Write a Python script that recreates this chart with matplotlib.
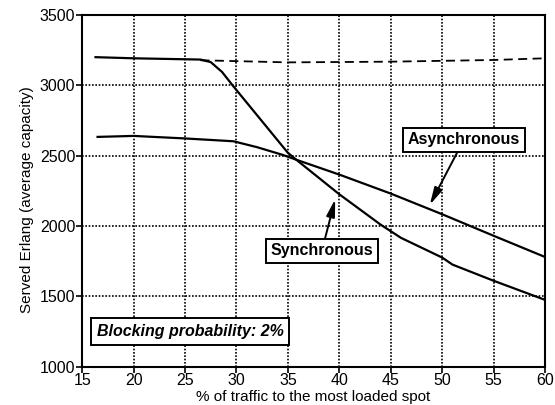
import numpy as np
import matplotlib
matplotlib.use("Agg")
import matplotlib.pyplot as plt

plt.rcParams['font.family'] = ['Liberation Sans', 'DejaVu Sans']

# Courbes
sync_x = [16.3, 20, 25, 26.5, 27.5, 28.6, 29.6, 35, 36, 40, 44, 46, 50, 51, 55, 60]
sync_y = [3200, 3192, 3185, 3183, 3165, 3095, 3002, 2520, 2460, 2225, 2010, 1915, 1775, 1725, 1610, 1474]

async_x = [16.5, 20, 25, 29.7, 32, 34.5, 36, 40, 45, 50, 55, 60]
async_y = [2633, 2640, 2622, 2602, 2560, 2505, 2466, 2365, 2230, 2083, 1930, 1779]

# limite en tirets
dash_x = [26.5, 35, 45, 55, 60]
dash_y = [3178, 3163, 3168, 3180, 3192]

x_ticks = [15, 20, 25, 30, 35, 40, 45, 50, 55, 60]
y_ticks = [1000, 1500, 2000, 2500, 3000, 3500]

fig = plt.figure(figsize=(5.55, 4.05), dpi=100)
ax = fig.add_axes([0.148, 0.095, 0.834, 0.868])

ax.plot(sync_x, sync_y, color='black', lw=1.6)
ax.plot(async_x, async_y, color='black', lw=1.6)
ax.plot(dash_x, dash_y, color='black', lw=1.3, linestyle=(0, (5, 3)))

ax.set_xlim(15, 60)
ax.set_ylim(1000, 3500)
ax.set_xticks(x_ticks)
ax.set_yticks(y_ticks)
ax.grid(True, color='black', linestyle=(0, (1, 1)), lw=1.2)
ax.tick_params(direction='out', length=4, width=1.2, labelsize=11.5, pad=1)
for s in ax.spines.values():
    s.set_linewidth(1.5)

ax.set_xlabel("% of traffic to the most loaded spot", fontsize=11, labelpad=1)
ax.set_ylabel("Served Erlang (average capacity)", fontsize=11)
ax.yaxis.set_label_coords(-0.105, 0.475)

box = dict(boxstyle='square,pad=0.3', fc='white', ec='black', lw=1.4)
arrow = dict(arrowstyle='-|>,head_length=0.9,head_width=0.22', color='black', lw=1.4,
             shrinkA=0, shrinkB=0)

ax.annotate("Asynchronous", xy=(48.8, 2150), xytext=(52.1, 2611),
            fontsize=11.5, fontweight='bold', ha='center', va='center',
            bbox=box, arrowprops=arrow)
ax.annotate("Synchronous", xy=(39.6, 2190), xytext=(38.3, 1822),
            fontsize=11.5, fontweight='bold', ha='center', va='center',
            bbox=box, arrowprops=arrow)
ax.text(25.5, 1249, "Blocking probability: 2%", fontsize=11.5, fontweight='bold',
        fontstyle='italic', ha='center', va='center',
        bbox=dict(boxstyle='square,pad=0.35', fc='white', ec='black', lw=1.4))

fig.savefig("out.png", dpi=100)
